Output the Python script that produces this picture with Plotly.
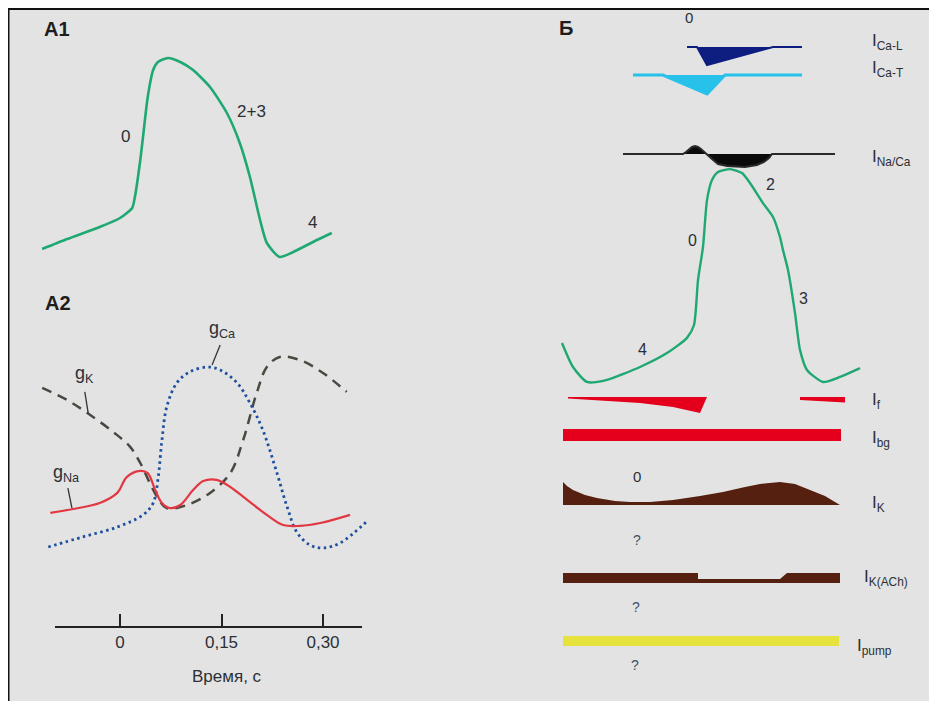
import plotly.graph_objects as go

# page body has an 8px default margin; figure fills the rest of the 937x701 window
OFF = 8
W, H = 937 - OFF, 701 - OFF

# ---------------- data ----------------
# A1: sinoatrial action potential (time, s ; membrane potential, mV)
a1_t = [-0.115, -0.078, -0.030, 0.000, 0.018, 0.022, 0.030, 0.034, 0.041, 0.049, 0.056, 0.071,
        0.089, 0.108, 0.133, 0.158, 0.177, 0.192, 0.207, 0.217, 0.236, 0.256, 0.291, 0.313]
a1_v = [-55.6, -51.6, -46.8, -43.2, -39.2, -34.8, -20.0, -10.8, 5.2, 16.0, 19.2, 20.8,
        19.2, 16.0, 9.2, -1.2, -13.2, -26.8, -44.0, -53.2, -58.8, -56.8, -52.0, -49.2]

# A2: conductances (relative units)
gna_t = [-0.103, -0.069, -0.030, -0.004, 0.010, 0.030, 0.041, 0.052, 0.062, 0.074, 0.089, 0.108,
         0.123, 0.143, 0.163, 0.188, 0.217, 0.241, 0.266, 0.296, 0.340]
gna_v = [0.214, 0.232, 0.259, 0.305, 0.377, 0.405, 0.395, 0.318, 0.259, 0.236, 0.250, 0.318,
         0.359, 0.364, 0.332, 0.273, 0.205, 0.159, 0.155, 0.168, 0.205]

gca_t = [-0.106, -0.055, -0.004, 0.034, 0.049, 0.056, 0.062, 0.069, 0.084, 0.103, 0.129, 0.148,
         0.173, 0.192, 0.211, 0.232, 0.247, 0.262, 0.281, 0.300, 0.325, 0.367]
gca_v = [0.059, 0.105, 0.150, 0.205, 0.259, 0.364, 0.545, 0.695, 0.805, 0.855, 0.877, 0.864,
         0.805, 0.714, 0.591, 0.395, 0.241, 0.123, 0.068, 0.055, 0.077, 0.182]

gk_t = [-0.115, -0.078, -0.044, -0.010, 0.015, 0.030, 0.044, 0.055, 0.069, 0.099, 0.133, 0.163,
        0.182, 0.202, 0.217, 0.236, 0.266, 0.300, 0.335]
gk_v = [0.782, 0.727, 0.659, 0.582, 0.514, 0.441, 0.350, 0.286, 0.236, 0.250, 0.305, 0.395,
        0.545, 0.759, 0.877, 0.923, 0.909, 0.850, 0.764]

a2_ticks = [0, 0.15, 0.30]
a2_ticktext = ["0", "0,15", "0,30"]

# Б: currents over one cycle (time, a.u.; current, a.u.)
cal_t = [127, 137, 147, 213, 242]
cal_i = [0, 0, -18, 0, 0]

cat_t = [73, 103, 147, 165, 242]
cat_i = [0, 0, -19, 0, 0]

naca_t = [63, 123, 126, 129, 132, 135, 138, 141, 144, 147, 152, 158, 167, 185, 197, 204, 209, 212, 275]
naca_i = [0, 0, 2, 5, 7, 8, 7, 5, 2, 0, -5, -10, -12, -13, -11, -8, -4, 0, 0]

apb_t = [2, 13, 27, 47, 80, 107, 127, 134, 138, 143, 147, 152, 158, 170, 182, 190, 203, 213,
         220, 223, 228, 235, 240, 247, 263, 280, 300]
apb_v = [-45.4, -54.4, -60.0, -59.2, -54.4, -49.2, -43.5, -38.7, -21.9, -9.5, 8.0, 15.5, 18.5,
         19.6, 18.1, 14.4, 6.9, 1.7, -5.8, -10.7, -18.1, -34.2, -48.0, -55.5, -60.0, -58.1, -54.8]

if1_t = [8, 40, 80, 113, 140, 147]
if1_i = [-1.5, -3.5, -6, -10, -16, 0]
if2_t = [240, 285]
if2_i = [-3, -5.5]

ibg_t = [3, 281]
ibg_i = [-12, -12]

ik_t = [3, 3, 7, 13, 25, 37, 55, 70, 90, 113, 140, 163, 185, 200, 220, 235, 250, 265, 280]
ik_i = [0, 23, 19, 15, 10, 7, 4, 3, 3, 5, 9, 13, 18, 21, 23, 21, 15, 9, 0]

ikach_t = [3, 138, 138, 220, 227, 280]
ikach_i = [10, 10, 4, 4, 10, 10]

ipump_t = [3, 279]
ipump_i = [10, 10]

# ---------------- helpers (positions measured in window pixels) ----------------
def dx(a, b):
    return [(a - OFF) / W, (b - OFF) / W]

def dy(top, bottom):
    return [1 - (bottom - OFF) / H, 1 - (top - OFF) / H]

def px(x):
    return (x - OFF) / W

def py(y):
    return 1 - (y - OFF) / H

K = 0.15 / 101.5  # s per px in panel A
def t_of(p):
    return (p - 120) * K

FONT = "Liberation Sans, Arial, sans-serif"
TXT = "#2b3036"

fig = go.Figure()

# A1
fig.add_trace(go.Scatter(x=a1_t, y=a1_v, mode="lines", line=dict(color="#1fa872", width=2.6, shape="spline", smoothing=0.6),
                         xaxis="x", yaxis="y"))
# A2
fig.add_trace(go.Scatter(x=gk_t, y=gk_v, mode="lines", line=dict(color="#4a4840", width=2.5, dash="10px,7px", shape="spline"),
                         xaxis="x2", yaxis="y2"))
fig.add_trace(go.Scatter(x=gca_t, y=gca_v, mode="lines", line=dict(color="#1e4f9e", width=2.8, dash="2.5px,3.5px", shape="spline"),
                         xaxis="x2", yaxis="y2"))
fig.add_trace(go.Scatter(x=gna_t, y=gna_v, mode="lines", line=dict(color="#e23844", width=2.2, shape="spline"),
                         xaxis="x2", yaxis="y2"))

def row_axis(base_px, h=30):
    return dict(domain=dy(base_px - h, base_px + h), range=[-h, h], anchor="x3", visible=False)

def area(t, i, yax, color, lw=0, lcolor=None):
    fig.add_trace(go.Scatter(x=t, y=i, mode="lines", fill="tozeroy", fillcolor=color,
                             line=dict(color=lcolor or color, width=lw), xaxis="x3", yaxis=yax))

area(cal_t, cal_i, "y3", "#0d1d80", lw=2)
area(cat_t, cat_i, "y4", "#27c1ea", lw=3)
area(naca_t, naca_i, "y5", "#0a0a0a", lw=2, lcolor="#2a2a2a")
fig.add_trace(go.Scatter(x=apb_t, y=apb_v, mode="lines", line=dict(color="#1fa872", width=2.4, shape="spline", smoothing=0.6),
                         xaxis="x3", yaxis="y6"))
area(if1_t, if1_i, "y7", "#e4001c")
area(if2_t, if2_i, "y7", "#e4001c")
area(ibg_t, ibg_i, "y8", "#e4001c")
area(ik_t, ik_i, "y9", "#55200f")
area(ikach_t, ikach_i, "y10", "#55200f")
area(ipump_t, ipump_i, "y11", "#e6e23c")

x_rng = [t_of(30), t_of(380)]
axis_pos = py(627)

layout = dict(
    width=W, height=H, margin=dict(l=0, r=0, t=0, b=0),
    paper_bgcolor="#e3e3e3", plot_bgcolor="rgba(0,0,0,0)",
    showlegend=False, font=dict(family=FONT, color=TXT),
    xaxis=dict(domain=dx(30, 380), range=x_rng, visible=False),
    yaxis=dict(domain=dy(40, 280), range=[-68, 28], visible=False),
    xaxis2=dict(domain=dx(30, 380), range=x_rng, anchor="free", position=axis_pos,
                showline=False, showgrid=False, zeroline=False, ticks="inside", ticklen=13,
                tickwidth=2, tickcolor="#222", tickvals=a2_ticks, ticktext=a2_ticktext,
                tickfont=dict(size=17, color=TXT, family=FONT), ticklabelstandoff=3),
    yaxis2=dict(domain=dy(320, 580), range=[(560 - 580) / 220, (560 - 320) / 220],
                anchor="free", position=0, visible=False),
    xaxis3=dict(domain=dx(550, 870), range=[-10, 310], anchor="y3", visible=False),
    yaxis3=row_axis(47),
    yaxis4=row_axis(75),
    yaxis5=row_axis(154),
    yaxis6=dict(domain=dy(160, 390), range=[-63, 23], anchor="x3", visible=False),
    yaxis7=row_axis(397),
    yaxis8=row_axis(429),
    yaxis9=row_axis(505),
    yaxis10=row_axis(583),
    yaxis11=row_axis(646),
)

shapes = [
    # A2 axis line
    dict(type="line", xref="x2", yref="paper", x0=t_of(55), x1=t_of(362), y0=axis_pos, y1=axis_pos,
         line=dict(color="#222", width=2)),
    # leader lines for conductance labels
    dict(type="line", xref="x2", yref="y2", x0=-0.052, y0=0.764, x1=-0.047, y1=0.668, line=dict(color="#333", width=1.3)),
    dict(type="line", xref="x2", yref="y2", x0=0.148, y0=0.977, x1=0.136, y1=0.886, line=dict(color="#333", width=1.3)),
    dict(type="line", xref="x2", yref="y2", x0=-0.077, y0=0.327, x1=-0.071, y1=0.236, line=dict(color="#333", width=1.3)),
    # frame (top and left edges)
    dict(type="line", xref="paper", yref="paper", x0=0, x1=1, y0=py(9), y1=py(9),
         line=dict(color="#111", width=2), layer="above"),
    dict(type="line", xref="paper", yref="paper", x0=px(8.5), x1=px(8.5), y0=0, y1=1,
         line=dict(color="#111", width=2), layer="above"),
]

def ann(text, x, y, size=17, anchor="center", bold=False, color=TXT):
    if bold:
        text = "<b>" + text + "</b>"
    return dict(text=text, x=px(x), y=py(y), xref="paper", yref="paper", showarrow=False,
                xanchor=anchor, yanchor="middle", font=dict(size=size, color=color, family=FONT))

anns = [
    ann("A1", 57, 29, 20, bold=True, color="#1e1e1e"),
    ann("A2", 58, 303, 20, bold=True, color="#1e1e1e"),
    ann("Б", 566, 28, 20, bold=True, color="#1e1e1e"),
    ann("0", 125, 136), ann("2+3", 251, 111), ann("4", 312, 222),
    ann("g<sub>K</sub>", 84, 374, 18), ann("g<sub>Ca</sub>", 222, 329, 18), ann("g<sub>Na</sub>", 66, 474, 18),
    ann("Время, с", 227, 676, 17),
    ann("0", 689, 17, 15), ann("2", 770, 184, 16), ann("0", 692, 240, 16), ann("3", 803, 298, 16), ann("4", 642, 350, 16),
    ann("0", 637, 476, 15), ann("?", 637, 540, 14, color="#3c5468"), ann("?", 636, 607, 14, color="#3c5468"),
    ann("?", 635, 665, 14, color="#3c5468"),
    ann("I<sub>Ca-L</sub>", 870, 42, 17, anchor="left"),
    ann("I<sub>Ca-T</sub>", 870, 69, 17, anchor="left"),
    ann("I<sub>Na/Ca</sub>", 870, 158, 17, anchor="left"),
    ann("I<sub>f</sub>", 870, 401, 17, anchor="left"),
    ann("I<sub>bg</sub>", 870, 439, 17, anchor="left"),
    ann("I<sub>K</sub>", 870, 504, 17, anchor="left"),
    ann("I<sub>K(ACh)</sub>", 862, 578, 17, anchor="left"),
    ann("I<sub>pump</sub>", 855, 647, 17, anchor="left"),
]

layout["shapes"] = shapes
layout["annotations"] = anns
fig.update_layout(**layout)
fig.update_traces(hoverinfo="skip")
fig.write_html("out.html")
